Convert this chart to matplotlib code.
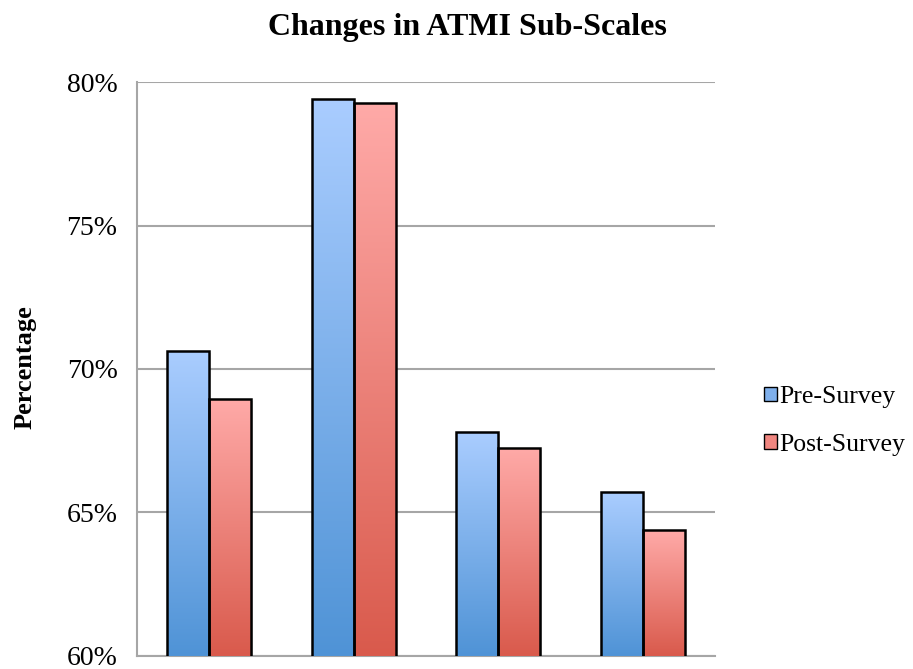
import matplotlib
matplotlib.use("Agg")
import matplotlib.pyplot as plt
import numpy as np
from matplotlib.colors import LinearSegmentedColormap
from matplotlib.patches import Patch
from matplotlib.ticker import FuncFormatter

plt.rcParams['font.family'] = ['Liberation Serif', 'DejaVu Serif']

categories = ["Sub-scale 1", "Sub-scale 2", "Sub-scale 3", "Sub-scale 4"]
series_names = ["Pre-Survey", "Post-Survey"]
pre_values = [70.63, 79.41, 67.82, 65.71]
post_values = [68.96, 79.26, 67.26, 64.39]
y_ticks = [60, 65, 70, 75, 80]

fig = plt.figure(figsize=(9.13, 6.69), dpi=100)
ax = fig.add_axes([137/913, 1-656/669, (715-137)/913, (656-82)/669])

x = np.arange(len(categories))
w = 0.29
cmap_pre = LinearSegmentedColormap.from_list("pre", ["#4f93d6", "#aacdff"])
cmap_post = LinearSegmentedColormap.from_list("post", ["#d95a4c", "#ffaaa8"])

grad = np.linspace(0, 1, 256).reshape(-1, 1)
for vals, off, cmap in [(pre_values, -w/2, cmap_pre), (post_values, w/2, cmap_post)]:
    bars = ax.bar(x + off, vals, width=w, bottom=0, color='none', edgecolor='black',
                  linewidth=1.8, zorder=4)
    for b in bars:
        x0, y0 = b.get_x(), 60
        x1, y1 = b.get_x() + b.get_width(), b.get_height()
        ax.add_patch(plt.Rectangle((x0 + 0.012, y0), x1 - x0, y1 - y0 - 0.08,
                                   facecolor='#00000022', edgecolor='none', zorder=2))
        im = ax.imshow(grad, cmap=cmap, aspect='auto', extent=[x0, x1, y0, y1],
                       origin='lower', zorder=3)
        im.set_clip_path(b)

ax.set_xlim(-0.5, 3.5)
ax.set_ylim(60, 80)
ax.set_yticks(y_ticks)
ax.yaxis.set_major_formatter(FuncFormatter(lambda v, p: f"{v:.0f}%"))
ax.set_xticks([])
ax.tick_params(axis='y', length=0, labelsize=20, pad=14)
ax.grid(axis='y', color='#a6a6a6', linewidth=1.5, zorder=0)
ax.set_axisbelow(True)
for s in ['top', 'right']:
    ax.spines[s].set_visible(False)
for s in ['left', 'bottom']:
    ax.spines[s].set_color('#a6a6a6')
    ax.spines[s].set_linewidth(1.5)

fig.text(25/913, 1-367/669, "Percentage", rotation=90, ha='center', va='center',
         fontsize=19, fontweight='bold')
fig.text(467/913, 1-28/669, "Changes in ATMI Sub-Scales", ha='center', va='center',
         fontsize=23, fontweight='bold')

handles = [Patch(facecolor='#7fb0ec', edgecolor='black', label=series_names[0]),
           Patch(facecolor='#f08680', edgecolor='black', label=series_names[1])]
fig.legend(handles=handles, loc='center left', bbox_to_anchor=(764/913, 1-421/669),
           frameon=False, fontsize=18.5, handlelength=0.5, handleheight=0.5,
           handletextpad=0.1, labelspacing=1.0, borderpad=0, borderaxespad=0)

fig.savefig("out.png", dpi=100)
